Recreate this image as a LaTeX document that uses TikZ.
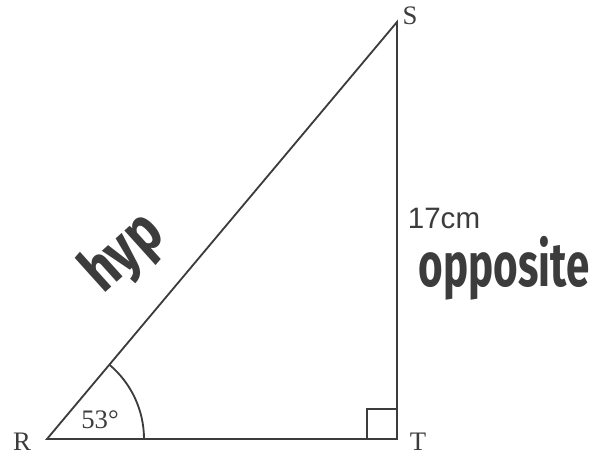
\documentclass[tikz,border=0pt]{standalone}
\usepackage{fontspec}
\usepackage{graphicx}
\setmainfont{Liberation Serif}
\newfontfamily\labelsans{Liberation Sans}
\newfontfamily\handfont{Fira Sans}
\definecolor{ink}{RGB}{60,60,60}
\tikzset{
    side/.style={draw=ink, line width=1.3pt},
    vertex/.style={text=ink, font=\fontsize{19}{19}\selectfont},
    hand/.style={text=ink, font=\handfont\bfseries\fontsize{40}{40}\selectfont}
}
\begin{document}
\begin{tikzpicture}
        \useasboundingbox (0,0) rectangle (14.875,11.4);
        % Vertici
        \coordinate (R) at (1.175,0.425);
        \coordinate (T) at (9.925,0.425);
        \coordinate (S) at (9.925,10.85);
        % Lati
        \draw [side] (R) -- (T) -- (S) -- cycle;
        % Angolo retto
        \draw [side] (9.175,0.425) |- (9.925,1.175);
        % Angolo in R
        \draw [side] ([shift={(0:2.425)}]R) arc (0:50:2.425);
        % Etichette
        \node [vertex] (labR) at (0.55,0.35) {R};
        \node [vertex] (labT) at (10.45,0.35) {T};
        \node [vertex] (labS) at (10.25,11.0) {S};
        \node [vertex] (ang) at (2.5,0.9) {53°};
        \node [text=ink, font=\labelsans\fontsize{21}{21}\selectfont] (len) at (11.1,5.95) {17cm};
        \node [hand] (opp) at (12.6,4.7) {\scalebox{0.75}[1.1]{opposite}};
        \node [hand, rotate=42] (hyp) at (3.1,5.05) {\scalebox{0.9}[1.1]{hyp}};
    \end{tikzpicture}
\end{document}
